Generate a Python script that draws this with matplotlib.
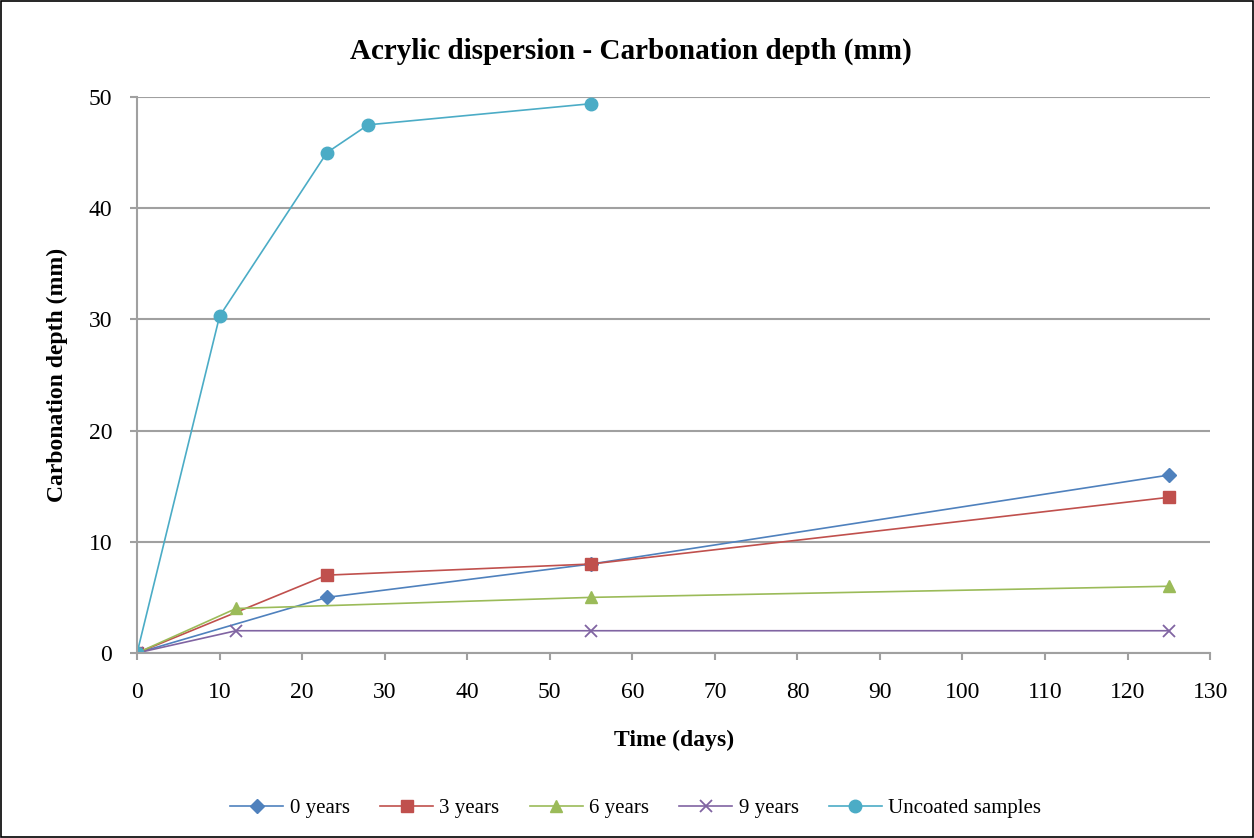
import matplotlib
matplotlib.use("Agg")
import matplotlib.pyplot as plt
from matplotlib.patches import Rectangle

plt.rcParams['font.family'] = ['Liberation Serif', 'DejaVu Serif']

x_0y = [0, 23, 55, 125]
y_0y = [0, 5, 8, 16]
x_3y = [0, 23, 55, 125]
y_3y = [0, 7, 8, 14]
x_6y = [0, 12, 55, 125]
y_6y = [0, 4, 5, 6]
x_9y = [0, 12, 55, 125]
y_9y = [0, 2, 2, 2]
x_unc = [0, 10, 23, 28, 55]
y_unc = [0, 30.3, 45.0, 47.5, 49.4]

series = [
    (x_0y, y_0y, "0 years", "#4F81BD", "D", 7),
    (x_3y, y_3y, "3 years", "#C0504D", "s", 8.5),
    (x_6y, y_6y, "6 years", "#9BBB59", "^", 8.5),
    (x_9y, y_9y, "9 years", "#8064A2", "x", 8.5),
    (x_unc, y_unc, "Uncoated samples", "#4BACC6", "o", 9),
]

fig = plt.figure(figsize=(12.54, 8.38), dpi=100)
ax = fig.add_axes([0.1093, 0.2208, 0.8557, 0.6634])

for xs, ys, lab, c, m, ms in series:
    kw = dict(color=c, lw=1.2, marker=m, markersize=ms, label=lab)
    if m == "x":
        kw.update(markeredgewidth=1.3)
    else:
        kw.update(markeredgecolor=c)
    ax.plot(xs, ys, **kw)

ax.set_xlim(0, 130)
ax.set_ylim(0, 50)
ax.set_xticks(range(0, 131, 10))
ax.set_yticks(range(0, 51, 10))
ax.grid(axis='y', color='#A0A0A0', lw=1.5)
ax.set_axisbelow(True)
for s in ['top', 'right']:
    ax.spines[s].set_visible(False)
for s in ['left', 'bottom']:
    ax.spines[s].set_color('#A0A0A0')
    ax.spines[s].set_linewidth(1.5)
ax.tick_params(axis='both', colors='#A0A0A0', labelcolor='black', labelsize=17,
               width=1.5, length=5, direction='out')
ax.tick_params(axis='x', pad=16)
ax.tick_params(axis='y', pad=13)

ax.set_xlabel("Time (days)", fontsize=17, fontweight='bold', labelpad=19)
ax.set_ylabel("Carbonation depth (mm)", fontsize=17, fontweight='bold', labelpad=15)
fig.text(0.503, 0.939, "Acrylic dispersion - Carbonation depth (mm)", ha='center', va='center',
         fontsize=21, fontweight='bold')

leg = fig.legend(loc='center', bbox_to_anchor=(0.507, 0.035), ncol=5, frameon=False,
                 fontsize=15, handlelength=2.55, columnspacing=1.45, handletextpad=0.3)

fig.add_artist(Rectangle((0.0008, 0.0012), 0.9984, 0.9976, transform=fig.transFigure,
                         fill=False, edgecolor='black', lw=1.2))

fig.savefig("out.png", dpi=100)
